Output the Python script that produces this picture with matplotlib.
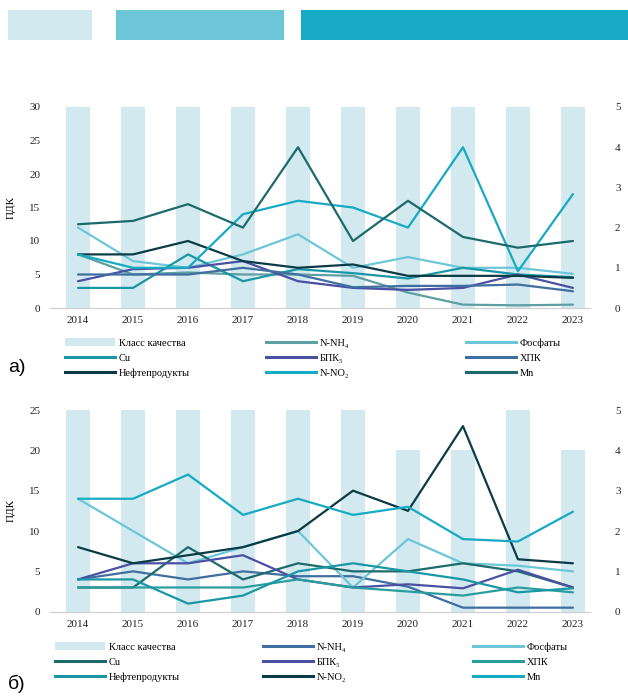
import matplotlib
matplotlib.use("Agg")
import matplotlib.pyplot as plt
from matplotlib.patches import Patch, Rectangle
from matplotlib.lines import Line2D

plt.rcParams['font.family'] = ['Liberation Serif', 'DejaVu Serif']

years = ['2014', '2015', '2016', '2017', '2018', '2019', '2020', '2021', '2022', '2023']

# panel a)
class_a = [5, 5, 5, 5, 5, 5, 5, 5, 5, 5]
nnh4_a = [8, 5, 5.3, 5, 5, 4.8, 2.3, 0.5, 0.4, 0.5]
phos_a = [12, 7, 6, 8, 11, 6, 7.6, 6, 6, 5.1]
cu_a = [3, 3, 8, 4, 5.8, 5.2, 4.4, 6, 5, 4.6]
bpk_a = [4, 5.8, 6, 7, 4, 3, 2.7, 3, 5, 3]
hpk_a = [5, 5, 5, 6, 5, 3.1, 3.3, 3.3, 3.5, 2.5]
oil_a = [8, 8, 10, 7, 6, 6.5, 4.8, 4.8, 4.8, 4.5]
nno2_a = [8, 6, 6, 14, 16, 15, 12, 24, 5.5, 17]
mn_a = [12.5, 13, 15.5, 12, 24, 10, 16, 10.6, 9, 10]

# panel б)
class_b = [5, 5, 5, 5, 5, 5, 4, 4, 5, 4]
nnh4_b = [4, 5, 4, 5, 4.4, 4.4, 3.1, 0.5, 0.5, 0.5]
phos_b = [14, 10, 6, 8, 10, 3, 9, 6, 5.7, 5]
cu_b = [3, 3, 8, 4, 6, 5, 5, 6, 5, 3]
bpk_b = [4, 6, 6, 7, 4, 3, 3.4, 2.9, 5.2, 3]
hpk_b = [3, 3, 3, 3, 4, 3, 2.5, 2, 3, 2.4]
oil_b = [4, 4, 1, 2, 5, 6, 5, 4, 2.4, 2.9]
nno2_b = [8, 6, 7, 8, 10, 15, 12.5, 23, 6.5, 6]
mn_b = [14, 14, 17, 12, 14, 12, 13, 9, 8.7, 12.4]

# colours
BAR = '#D1E9EF'
LIGHT = '#6CC6D8'
BRIGHT = '#17AAC4'
TEAL = '#1A97A5'
GRAYTEAL = '#5E9FA4'
DARKTEAL = '#1C6A6C'
DARK = '#0B3B45'
INDIGO = '#4A50A2'
STEEL = '#3F6EA0'
HPK_B = '#2A9D9F'

LW = 1.6
FS = 8

fig = plt.figure(figsize=(6.28, 6.96), dpi=100)

# top strip (cropped colour scale)
strip = [(8, 84, BAR), (116, 168, LIGHT), (301, 327, BRIGHT)]
for x0, w, c in strip:
    fig.add_artist(Rectangle((x0 / 628, 1 - 40 / 696), w / 628, 30 / 696,
                             transform=fig.transFigure, color=c, lw=0))


def panel(rect, classes, series, ymax, tag, tag_y, leg_y, col_x):
    ax = fig.add_axes(rect)
    ax2 = ax.twinx()
    x = list(range(len(years)))
    ax2.bar(x, classes, width=0.44, color=BAR, zorder=1)
    ax2.set_ylim(0, 5)
    ax2.set_yticks(range(6))
    ax.set_zorder(ax2.get_zorder() + 1)
    ax.patch.set_visible(False)

    for label, vals, color in series:
        ax.plot(x, vals, color=color, lw=LW, solid_capstyle='round')

    ax.set_ylim(0, ymax)
    ax.set_yticks(range(0, ymax + 1, 5))
    ax.set_xlim(-0.51, 9.31)
    ax.set_xticks(x)
    ax.set_xticklabels(years)
    for a in (ax, ax2):
        for s in ('top', 'left', 'right'):
            a.spines[s].set_visible(False)
        a.spines['bottom'].set_color('#d0d0d0')
        a.tick_params(length=0, labelsize=FS, colors='#222222')
    ax.tick_params(axis='y', pad=7)
    ax.tick_params(axis='x', pad=6)
    ax2.tick_params(axis='y', pad=18)
    ax.set_ylabel('ПДК', fontsize=FS)
    ax.yaxis.set_label_coords(-34 / 540, 0.5)
    ax2.set_ylabel('Класс качества воды', fontsize=FS)
    ax2.yaxis.set_label_coords(579 / 540, 0.5)

    # legend: three columns, filled row by row
    handles = [Patch(facecolor=BAR, edgecolor='none')] + \
        [Line2D([], [], color=c, lw=LW + 0.6) for _, _, c in series]
    labels = ['Класс качества'] + [l for l, _, _ in series]
    for ci in range(3):
        idx = [ci, ci + 3, ci + 6]
        fig.legend([handles[i] for i in idx], [labels[i] for i in idx],
                   loc='center left', bbox_to_anchor=(col_x[ci] / 628, leg_y),
                   frameon=False, fontsize=7.5, handlelength=4.8,
                   handleheight=0.8, handletextpad=0.35, labelspacing=0.5,
                   borderpad=0, borderaxespad=0)
    fig.text(8 / 628, tag_y, tag, fontsize=14, family='Liberation Sans',
             va='center', ha='left')
    return ax


series_a = [('N-NH₄', nnh4_a, GRAYTEAL), ('Фосфаты', phos_a, LIGHT),
            ('Cu', cu_a, TEAL), ('БПК₅', bpk_a, INDIGO), ('ХПК', hpk_a, STEEL),
            ('Нефтепродукты', oil_a, DARK), ('N-NO₂', nno2_a, BRIGHT),
            ('Mn', mn_a, DARKTEAL)]
series_b = [('N-NH₄', nnh4_b, STEEL), ('Фосфаты', phos_b, LIGHT),
            ('Cu', cu_b, DARKTEAL), ('БПК₅', bpk_b, INDIGO), ('ХПК', hpk_b, HPK_B),
            ('Нефтепродукты', oil_b, TEAL), ('N-NO₂', nno2_b, DARK),
            ('Mn', mn_b, BRIGHT)]

panel([50 / 628, 1 - 308 / 696, 540 / 628, 201 / 696], class_a, series_a, 30,
      'а)', 1 - 368 / 696, 1 - 358 / 696, [65, 266, 466])
panel([50 / 628, 1 - 611.7 / 696, 540 / 628, 201.7 / 696], class_b, series_b, 25,
      'б)', 1 - 684 / 696, 1 - 662 / 696, [55, 263, 473])

fig.savefig('out.png', dpi=100)
